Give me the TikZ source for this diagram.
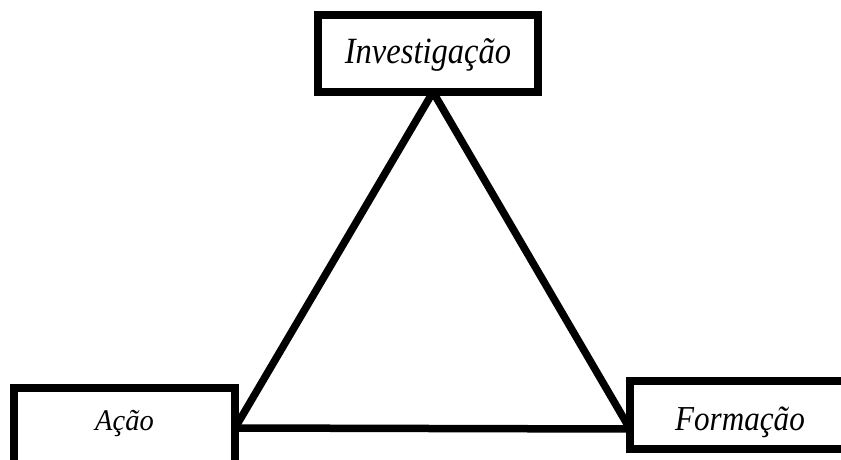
\documentclass[tikz,border=0pt]{standalone}
\usepackage{fontspec}
\usepackage{graphicx}
\setmainfont{Liberation Serif}
\tikzset{
  lbox/.style={draw=black, line width=8pt, fill=white, inner sep=0pt, outer sep=0pt, align=center},
  tri/.style={draw=black, line width=7.5pt, line cap=butt}
}
\newcommand{\lbl}[3]{\scalebox{#2}[1]{\fontsize{#1}{#1}\selectfont\itshape #3}}
\begin{document}
\begin{tikzpicture}[x=1pt,y=-1pt]
\useasboundingbox (0,0) rectangle (841,459);
\clip (0,0) rectangle (841,459);
\node[lbox, minimum width=220pt, minimum height=77pt, text height=25pt, text depth=6pt] (inv) at (428,53.5) {\lbl{37}{0.88}{Investigação}};
\node[lbox, minimum width=221pt, minimum height=76pt, text height=20pt, text depth=10pt] (ac) at (124.5,425.5) {\lbl{30}{0.95}{Ação}};
\node[lbox, minimum width=220pt, minimum height=68pt, text height=34pt, text depth=4pt] (fo) at (740,415) {\lbl{35}{0.89}{Formação}};
\path (inv.south) ++(5,0) coordinate (T);
\path (ac.east) ++(0,2.5) coordinate (L);
\path (fo.west) ++(0,14) coordinate (R);
\draw[tri] (L) -- (T);
\draw[tri] (T) -- (R);
\draw[tri] (L) -- (R);
\end{tikzpicture}
\end{document}
